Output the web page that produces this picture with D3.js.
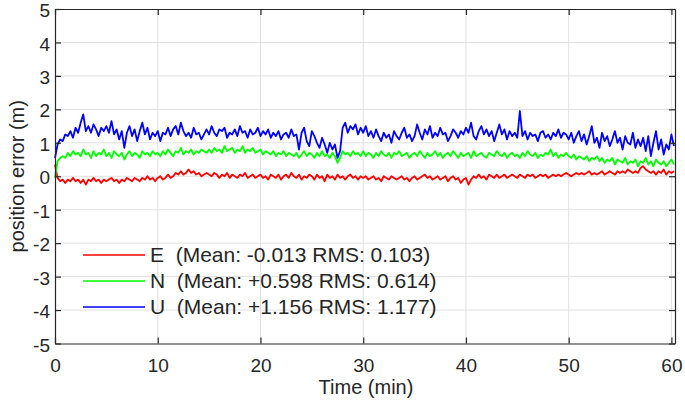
<!DOCTYPE html>
<html>
<head>
<meta charset="utf-8">
<script src="https://cdn.jsdelivr.net/npm/d3@7"></script>
<style>
  body { margin: 0; background: #fff; }
  text { font-family: "Liberation Sans", Arial, sans-serif; fill: #262626; }
</style>
</head>
<body>
<svg width="685" height="405"></svg>
<script>
// sampling interval of the series (min)
var sampleStep = 0.25;

var seriesNames = ["E", "N", "U"];
var seriesColors = ["#ff0000", "#00ff00", "#0000ff"];
var legendLabels = [
    "E  (Mean: -0.013 RMS: 0.103)",
    "N  (Mean: +0.598 RMS: 0.614)",
    "U  (Mean: +1.156 RMS: 1.177)"
];

var xTicks = [0, 10, 20, 30, 40, 50, 60];
var yTicks = [-5, -4, -3, -2, -1, 0, 1, 2, 3, 4, 5];

var eValues = [
    0.35, -0.05, -0.15, -0.1, -0.2, -0.1, -0.15, -0.05, -0.15, -0.1, -0.2, -0.1, -0.25, -0.1, -0.15, -0.05, -0.15, -0.1, -0.2, -0.1,
    -0.15, -0.1, -0.05, -0.15, -0.1, -0.2, -0.1, -0.15, -0.05, -0.1, -0.15, -0.05, -0.1, -0.15, -0.05, -0.1, 0.0, -0.1, -0.05, -0.15,
    -0.05, 0.0, -0.1, -0.05, 0.05, -0.05, 0.0, 0.1, 0.05, 0.15, 0.05, 0.1, 0.2, 0.1, 0.15, 0.05, 0.1, 0.0, 0.05, 0.1,
    0.05, 0.0, 0.1, 0.05, -0.05, 0.05, 0.0, 0.1, -0.05, 0.05, 0.0, -0.05, 0.05, 0.0, 0.1, -0.05, 0.0, 0.05, -0.05, 0.0,
    0.05, -0.05, 0.0, -0.1, 0.05, 0.0, -0.05, 0.05, -0.1, 0.0, 0.05, -0.05, 0.1, 0.0, -0.05, 0.05, -0.1, 0.0, -0.05, 0.05,
    0.0, -0.1, 0.05, -0.05, 0.0, -0.15, 0.05, -0.05, 0.0, -0.1, 0.05, -0.05, 0.0, -0.1, 0.0, 0.05, -0.05, 0.0, -0.1, 0.0,
    -0.05, 0.0, -0.1, -0.05, 0.0, -0.1, -0.05, -0.15, 0.0, -0.05, -0.1, 0.0, -0.05, -0.1, -0.05, 0.0, -0.1, -0.05, -0.15, -0.05,
    0.0, -0.1, -0.05, 0.0, 0.05, -0.05, 0.0, -0.1, -0.05, 0.0, -0.1, -0.05, 0.0, -0.15, -0.05, 0.0, -0.1, -0.05, -0.2, -0.1,
    -0.05, -0.25, -0.1, 0.0, -0.05, 0.05, -0.05, 0.0, -0.1, 0.05, 0.0, -0.05, 0.05, -0.05, 0.0, 0.05, -0.05, 0.0, 0.05, 0.0,
    -0.05, 0.05, 0.0, -0.05, 0.05, 0.0, 0.05, -0.05, 0.0, 0.05, 0.0, 0.05, -0.05, 0.0, 0.05, 0.0, 0.05, 0.0, 0.05, 0.1,
    0.05, 0.0, 0.05, 0.1, 0.05, 0.1, 0.05, 0.1, 0.15, 0.05, 0.1, 0.05, 0.1, 0.15, 0.05, 0.1, 0.15, 0.1, 0.05, 0.15,
    0.1, 0.15, 0.1, 0.2, 0.15, 0.1, 0.15, 0.1, 0.25, 0.3, 0.2, 0.15, 0.1, 0.15, 0.05, 0.15, 0.1, 0.2, 0.05, 0.15,
    0.1, 0.15
];

var nValues = [
    -0.05, 0.45, 0.55, 0.6, 0.55, 0.7, 0.6, 0.75, 0.65, 0.7, 0.6, 0.8, 0.65, 0.7, 0.55, 0.75, 0.6, 0.7, 0.65, 0.8,
    0.6, 0.7, 0.55, 0.75, 0.65, 0.6, 0.7, 0.5, 0.65, 0.75, 0.6, 0.7, 0.65, 0.55, 0.75, 0.65, 0.7, 0.6, 0.75, 0.65,
    0.7, 0.6, 0.75, 0.65, 0.8, 0.7, 0.6, 0.75, 0.7, 0.85, 0.65, 0.75, 0.7, 0.8, 0.65, 0.75, 0.7, 0.8, 0.75, 0.7,
    0.8, 0.7, 0.85, 0.75, 0.8, 0.7, 0.9, 0.75, 0.8, 0.85, 0.7, 0.8, 0.75, 0.9, 0.7, 0.8, 0.75, 0.85, 0.7, 0.75,
    0.8, 0.65, 0.75, 0.7, 0.65, 0.75, 0.6, 0.7, 0.65, 0.75, 0.6, 0.7, 0.65, 0.6, 0.7, 0.55, 0.65, 0.75, 0.6, 0.7,
    0.65, 0.55, 0.7, 0.6, 0.75, 0.6, 0.65, 0.55, 0.7, 0.6, 0.4, 0.55, 0.75, 0.65, 0.7, 0.6, 0.75, 0.65, 0.7, 0.6,
    0.75, 0.6, 0.7, 0.65, 0.55, 0.7, 0.6, 0.75, 0.65, 0.6, 0.7, 0.55, 0.7, 0.65, 0.75, 0.6, 0.65, 0.7, 0.55, 0.65,
    0.7, 0.6, 0.75, 0.65, 0.55, 0.7, 0.6, 0.65, 0.75, 0.6, 0.7, 0.55, 0.65, 0.7, 0.6, 0.75, 0.65, 0.55, 0.7, 0.6,
    0.65, 0.7, 0.55, 0.75, 0.6, 0.65, 0.7, 0.6, 0.55, 0.7, 0.65, 0.6, 0.75, 0.65, 0.6, 0.7, 0.55, 0.65, 0.7, 0.6,
    0.65, 0.55, 0.7, 0.6, 0.75, 0.65, 0.6, 0.7, 0.55, 0.65, 0.6, 0.7, 0.65, 0.8, 0.6, 0.7, 0.55, 0.65, 0.6, 0.7,
    0.6, 0.55, 0.65, 0.5, 0.6, 0.55, 0.5, 0.6, 0.45, 0.55, 0.5, 0.6, 0.45, 0.55, 0.4, 0.5, 0.45, 0.55, 0.35, 0.5,
    0.45, 0.4, 0.55, 0.35, 0.45, 0.4, 0.5, 0.3, 0.45, 0.4, 0.55, 0.35, 0.45, 0.3, 0.5, 0.4, 0.35, 0.45, 0.3, 0.4,
    0.5, 0.35
];

var uValues = [
    0.55, 0.95, 1.1, 1.05, 1.25, 1.2, 1.35, 1.15, 1.45, 1.3, 1.6, 1.85, 1.35, 1.5, 1.3, 1.55, 1.4, 1.2, 1.45, 1.35,
    1.5, 1.3, 1.65, 1.25, 1.4, 1.1, 1.35, 0.85, 1.3, 1.5, 1.2, 1.4, 1.05, 1.35, 1.6, 1.25, 1.45, 1.1, 1.3, 1.2,
    1.35, 1.05, 1.3, 1.25, 1.45, 1.2, 1.4, 1.5, 1.25, 1.6, 1.35, 1.2, 1.3, 1.15, 1.45, 1.25, 1.3, 1.1, 1.25, 1.4,
    1.25, 1.5, 1.3, 1.2, 1.4, 1.35, 1.45, 1.15, 1.3, 1.25, 1.4, 1.2, 1.5, 1.3, 1.35, 1.15, 1.4, 1.25, 1.3, 1.45,
    1.2, 1.35, 1.25, 1.4, 1.15, 1.3, 1.2, 1.35, 1.1, 1.25, 1.3, 1.15, 1.4, 1.2, 1.25, 0.8, 1.3, 1.45, 1.05, 0.9,
    1.35, 1.2, 1.0, 0.85, 1.15, 0.95, 0.7, 1.0, 0.8, 0.95, 0.55, 0.75, 1.45, 1.6, 1.3, 1.5, 1.4, 1.55, 1.25, 1.45,
    1.3, 1.5, 1.2, 1.35, 1.15, 1.4, 1.2, 1.05, 1.3, 1.15, 1.25, 1.0, 1.35, 1.2, 1.1, 1.3, 1.45, 1.15, 1.25, 1.05,
    1.2, 1.55, 1.3, 1.1, 1.4, 1.25, 1.5, 1.15, 1.3, 1.2, 1.45, 1.25, 1.3, 1.05, 1.2, 1.4, 1.3, 1.15, 1.35, 1.25,
    1.45, 1.3, 1.6, 1.2, 1.1, 1.35, 1.5, 1.25, 1.4, 1.2, 1.35, 1.05, 1.3, 1.55, 1.25, 1.4, 1.1, 1.35, 1.2, 1.3,
    1.15, 1.95, 1.2, 1.35, 1.1, 1.3, 1.2, 1.25, 1.05, 1.3, 1.35, 1.15, 1.25, 1.1, 1.3, 1.2, 1.4, 1.15, 1.3, 1.25,
    1.1, 1.3, 1.0, 1.2, 1.35, 1.05, 1.25, 0.95, 1.2, 1.5, 1.0, 1.15, 0.85, 1.3, 1.05, 1.2, 0.9, 1.1, 1.35, 1.0,
    1.15, 0.8, 1.2, 1.0, 0.95, 1.3, 0.85, 1.1, 0.9, 1.15, 0.75, 1.2, 0.6, 1.0, 1.35, 0.8, 1.1, 0.65, 0.95, 0.8,
    1.25, 0.9
];

/* chart set up */
var svg = d3.select("svg"),
    margin = {top: 9, right: 10, bottom: 61.5, left: 55},
    width = svg.attr("width") - margin.left - margin.right,
    height = svg.attr("height") - margin.top - margin.bottom,
    g = svg.append("g").attr("transform",
        "translate(" + margin.left + "," + margin.top + ")");

var x = d3.scaleLinear().domain([0, 60.35]).range([0, width]),
    y = d3.scaleLinear().domain([-5, 5]).range([height, 0]);

var axisColor = "#262626";
// plain hyphen for negatives, like the original
var plainFormat = function (d) { return String(d); };

// grid
g.append("g").selectAll("line.gx")
    .data(xTicks.slice(1))
    .enter().append("line")
    .attr("x1", function (d) { return x(d); })
    .attr("x2", function (d) { return x(d); })
    .attr("y1", 0).attr("y2", height)
    .attr("stroke", "#e0e0e0").attr("stroke-width", 1);

g.append("g").selectAll("line.gy")
    .data(yTicks.slice(1, -1))
    .enter().append("line")
    .attr("y1", function (d) { return y(d); })
    .attr("y2", function (d) { return y(d); })
    .attr("x1", 0).attr("x2", width)
    .attr("stroke", "#e0e0e0").attr("stroke-width", 1);

// lines
var line = d3.line()
    .x(function (d, i) { return x(i * sampleStep); })
    .y(function (d) { return y(d); });

var allValues = [eValues, nValues, uValues];

g.append("g").selectAll("path")
    .data(allValues)
    .enter().append("path")
    .attr("fill", "none")
    .attr("stroke", function (d, i) { return seriesColors[i]; })
    .attr("stroke-width", 1.8)
    .attr("stroke-linejoin", "round")
    .attr("d", line);

// axes (MATLAB style box with inward ticks)
function styleAxis(sel) {
    sel.select(".domain").attr("stroke", axisColor).attr("stroke-width", 1.2);
    sel.selectAll(".tick line").attr("stroke", axisColor).attr("stroke-width", 1.2);
    sel.selectAll("text").style("font-family", "'Liberation Sans', Arial, sans-serif")
        .style("font-size", "19px").attr("fill", axisColor);
}

g.append("g")
    .attr("transform", "translate(0," + height + ")")
    .call(d3.axisBottom(x).tickValues(xTicks).tickFormat(plainFormat)
        .tickSizeInner(-6).tickSizeOuter(0).tickPadding(15))
    .call(styleAxis);

g.append("g")
    .call(d3.axisTop(x).tickValues(xTicks).tickSizeInner(-6).tickSizeOuter(0).tickFormat(""))
    .call(styleAxis);

g.append("g")
    .call(d3.axisLeft(y).tickValues(yTicks).tickFormat(plainFormat)
        .tickSizeInner(-6).tickSizeOuter(0).tickPadding(5))
    .call(styleAxis)
    .selectAll("text").attr("dy", "0.4em");

g.append("g")
    .attr("transform", "translate(" + width + ",0)")
    .call(d3.axisRight(y).tickValues(yTicks).tickSizeInner(-6).tickSizeOuter(0).tickFormat(""))
    .call(styleAxis);

// axis labels
svg.append("text")
    .attr("x", margin.left + width / 2 + 1)
    .attr("y", 394)
    .attr("text-anchor", "middle")
    .style("font-size", "20px")
    .text("Time (min)");

svg.append("text")
    .attr("transform", "translate(24," + (margin.top + height / 2) + ") rotate(-90)")
    .attr("text-anchor", "middle")
    .style("font-size", "20px")
    .text("position error (m)");

// legend
var legend = g.append("g").attr("transform", "translate(28,246)");
var rows = legend.selectAll("g")
    .data(legendLabels)
    .enter().append("g")
    .attr("transform", function (d, i) { return "translate(0," + (i * 26) + ")"; });

rows.append("line")
    .attr("x1", 0).attr("x2", 62)
    .attr("stroke", function (d, i) { return seriesColors[i]; })
    .attr("stroke-width", 1.6);

rows.append("text")
    .attr("x", 67)
    .attr("dy", "0.35em")
    .style("font-size", "21px")
    .style("white-space", "pre")
    .text(function (d) { return d; });
</script>
</body>
</html>
